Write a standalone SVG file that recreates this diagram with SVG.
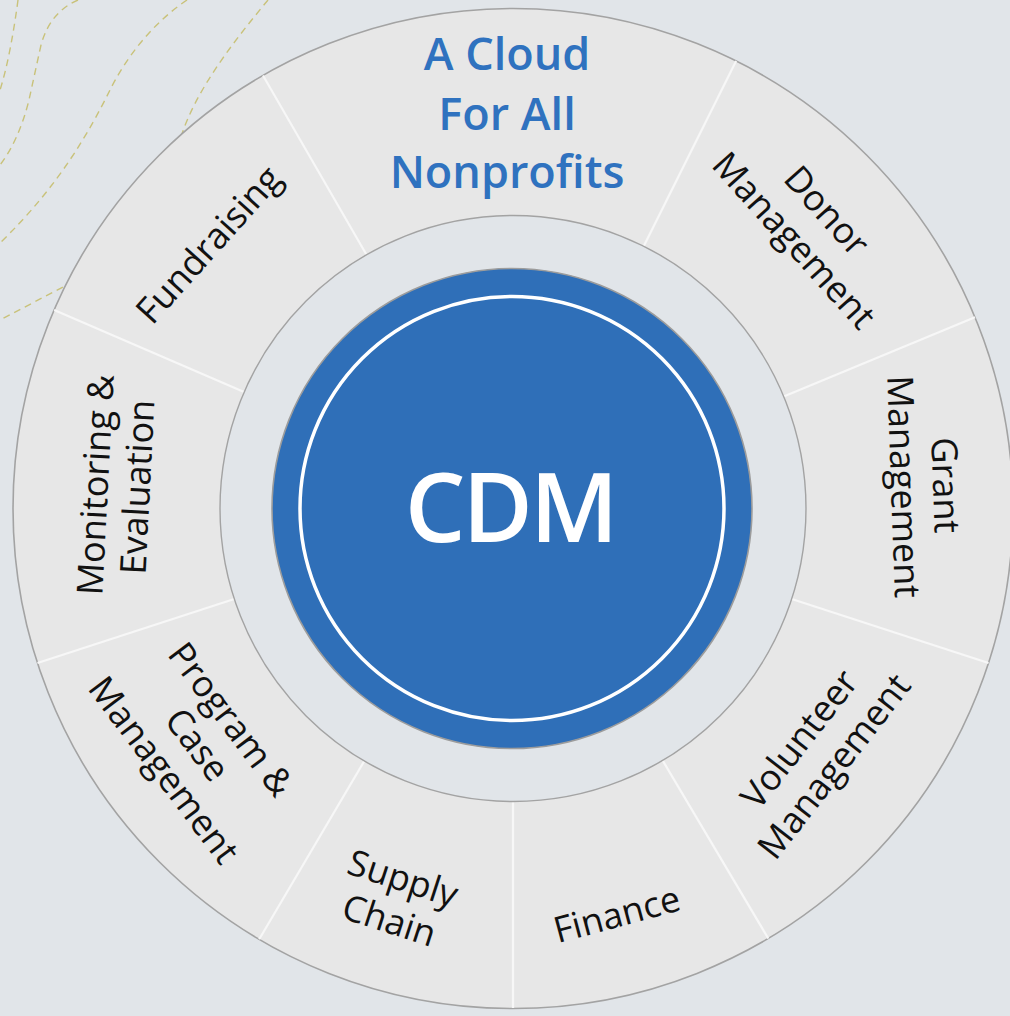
<svg xmlns="http://www.w3.org/2000/svg" width="1010" height="1016" viewBox="0 0 1010 1016">
  <style>
    .bg { fill: #e1e5e9; }
    .dash { fill: none; stroke: #c9c27a; stroke-width: 1.4; stroke-dasharray: 7 5; }
    .ring { fill: #e7e7e7; stroke: #a3a3a3; stroke-width: 1.6; }
    .inner { fill: #e1e5e9; stroke: #a3a3a3; stroke-width: 1.4; }
    .div { stroke: #f7f7f7; stroke-width: 2.2; }
    .lbl { font-family: "Open Sans", "Noto Sans", "Liberation Sans", sans-serif; font-size: 36px; font-weight: 500; fill: #111111; text-anchor: middle; }
    .title { font-family: "Open Sans", "Noto Sans", "Liberation Sans", sans-serif; font-size: 45px; font-weight: 600; fill: #2f72bf; text-anchor: middle; }
    .core { font-family: "Open Sans", "Noto Sans", "Liberation Sans", sans-serif; font-size: 96px; font-weight: 600; fill: #ffffff; text-anchor: middle; letter-spacing: -3px; }
  </style>
  <rect class="bg" x="0" y="0" width="1010" height="1016"/>
  <g id="background-lines">
    <path class="dash" d="M18,0 C14,30 8,65 0,90"/>
    <path class="dash" d="M78,0 Q50,12 41,45 L29,100 Q19,140 0,165"/>
    <path class="dash" d="M187,0 C150,25 125,60 110,90 C90,130 60,185 0,243"/>
    <path class="dash" d="M268,0 C235,40 195,90 180,140 L120,250 Q90,275 63,287 L0,320"/>
  </g>
  <g id="outer-ring">
    <circle class="ring" cx="513" cy="508.5" r="500"/>
  </g>
  <g id="connectors">
    <line class="div" x1="366.5" y1="254.8" x2="263" y2="75.5"/>
    <line class="div" x1="643.7" y1="246.3" x2="736.1" y2="61"/>
    <line class="div" x1="783.7" y1="396.4" x2="975" y2="317.2"/>
    <line class="div" x1="791.7" y1="599" x2="988.5" y2="663"/>
    <line class="div" x1="662.6" y1="760.4" x2="768.3" y2="938.5"/>
    <line class="div" x1="513" y1="801.5" x2="513" y2="1008"/>
    <line class="div" x1="364.3" y1="761" x2="259.2" y2="939.3"/>
    <line class="div" x1="234.3" y1="599" x2="37.5" y2="663"/>
    <line class="div" x1="244.1" y1="392.1" x2="54.1" y2="309.9"/>
  </g>
  <g id="inner-ring">
    <circle class="inner" cx="513" cy="508.5" r="293"/>
  </g>
  <g id="cdm">
    <circle cx="512" cy="508.5" r="240" fill="#2f6fb8" stroke="#9c9c9c" stroke-width="1.6"/>
    <circle cx="512" cy="508.5" r="212" fill="none" stroke="#ffffff" stroke-width="3.5"/>
    <text class="core" x="510" y="542">CDM</text>
  </g>
  <g id="cloud">
    <text class="title" x="507" y="70">A Cloud</text>
    <text class="title" x="507" y="130">For All</text>
    <text class="title" x="507" y="188">Nonprofits</text>
  </g>
  <g id="fundraising" transform="translate(209,245) rotate(-48)">
    <text class="lbl" x="0" y="12">Fundraising</text>
  </g>
  <g id="donor" transform="translate(810,226) rotate(48)">
    <text class="lbl" x="0" y="-10">Donor</text>
    <text class="lbl" x="0" y="34">Management</text>
  </g>
  <g id="grant" transform="translate(924,486) rotate(88)">
    <text class="lbl" x="0" y="-9">Grant</text>
    <text class="lbl" x="0" y="33">Management</text>
  </g>
  <g id="volunteer" transform="translate(817,753) rotate(-52)">
    <text class="lbl" x="0" y="-10">Volunteer</text>
    <text class="lbl" x="0" y="34">Management</text>
  </g>
  <g id="finance" transform="translate(617,915) rotate(-15)">
    <text class="lbl" x="0" y="12">Finance</text>
  </g>
  <g id="supply" transform="translate(396,900) rotate(18)">
    <text class="lbl" x="0" y="-10">Supply</text>
    <text class="lbl" x="0" y="34">Chain</text>
  </g>
  <g id="program" transform="translate(197,745) rotate(53)">
    <text class="lbl" x="0" y="-30">Program &amp;</text>
    <text class="lbl" x="0" y="12">Case</text>
    <text class="lbl" x="0" y="54">Management</text>
  </g>
  <g id="monitoring" transform="translate(117,486) rotate(-87)">
    <text class="lbl" x="0" y="-9">Monitoring &amp;</text>
    <text class="lbl" x="0" y="33">Evaluation</text>
  </g>
</svg>
